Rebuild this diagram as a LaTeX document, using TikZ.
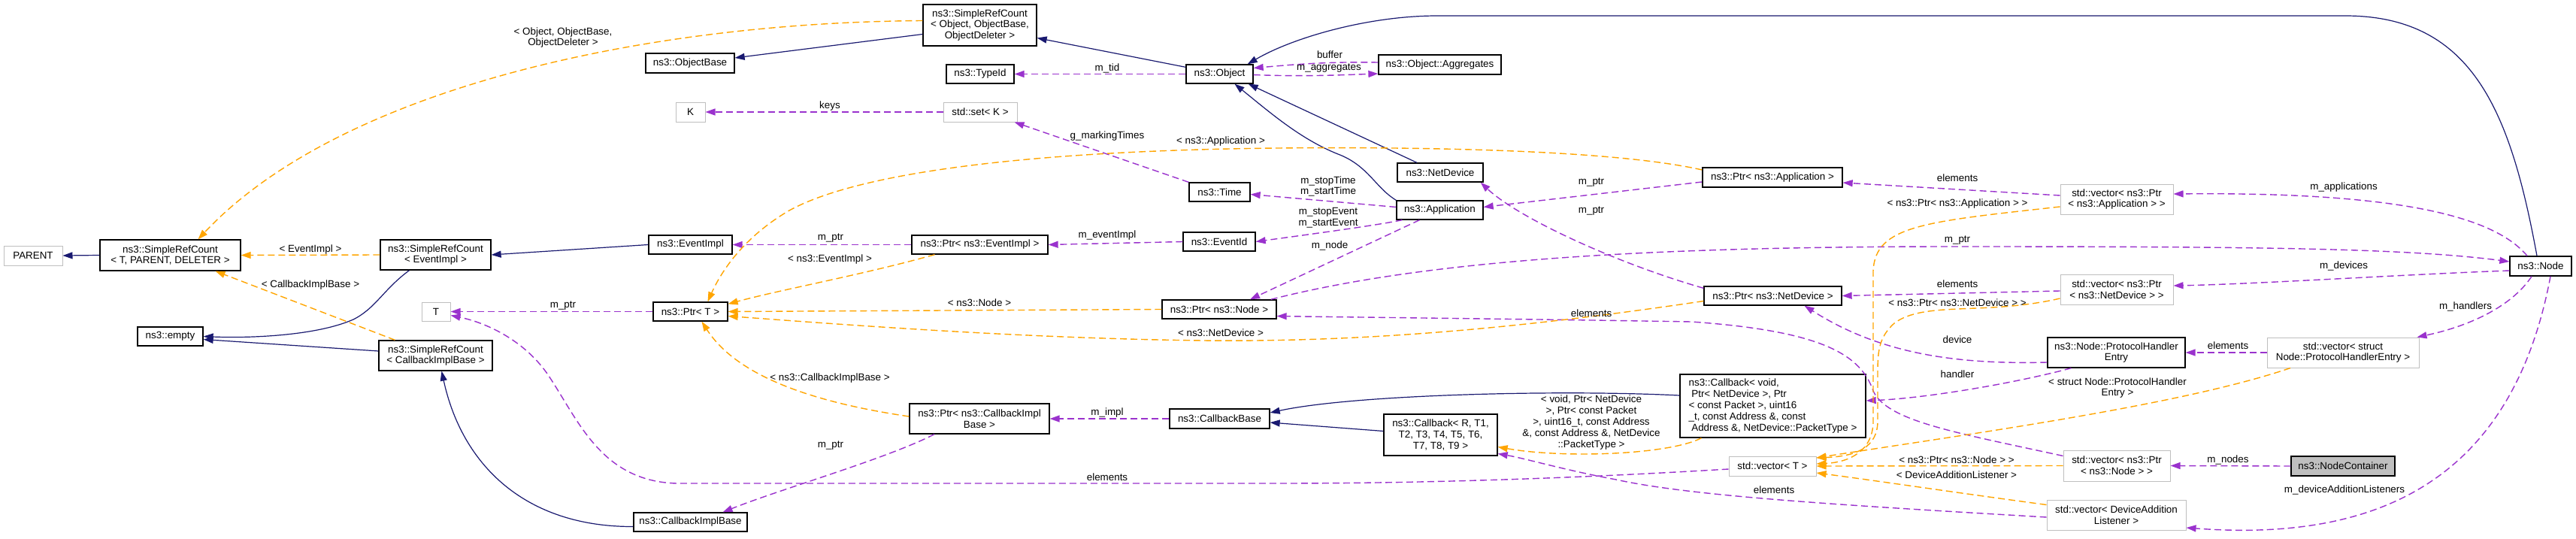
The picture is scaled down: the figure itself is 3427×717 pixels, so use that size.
\documentclass[tikz,border=0pt]{standalone}
\usepackage{fontspec}
\setmainfont{Liberation Sans}
\usetikzlibrary{arrows.meta}
\definecolor{inhblue}{RGB}{25,25,112}
\definecolor{usepurple}{RGB}{154,50,205}
\definecolor{tplorange}{RGB}{255,165,0}
\definecolor{extgray}{RGB}{191,191,191}
\newcommand\dfont{\fontsize{13.4}{14.8}\selectfont}
\tikzset{
	cls/.style={draw=black, line width=1.3pt, fill=white, align=center, inner sep=0pt, font=\dfont},
	ext/.style={cls, draw=extgray, line width=1pt},
	sel/.style={cls, fill=extgray},
	sz/.style 2 args={minimum width=#1pt, minimum height=#2pt},
	lbl/.style={font=\dfont, inner sep=0pt, align=center},
	inh/.style={draw=inhblue, line width=1.2pt, -{Triangle[length=13pt,width=9pt]}},
	use/.style={draw=usepurple, line width=1.4pt, dash pattern=on 9pt off 5pt, -{Triangle[length=13pt,width=9pt]}},
	tpl/.style={draw=tplorange, line width=1.4pt, dash pattern=on 9pt off 5pt, -{Triangle[length=13pt,width=9pt]}},
}

\begin{document}
\begin{tikzpicture}[x=1pt, y=-1pt]
			%%%%% START %%%%%
			\fill[white] (0,0) rectangle (3427,717);
			\useasboundingbox (0,0) rectangle (3427,717);
			
			%%%%% CLASSES %%%%%
			\node[ext, sz={78}{26}] (parent) at (44,340) {PARENT};
			\node[cls, sz={187}{41}] (srcT) at (226.5,339.5) {ns3::SimpleRefCount\\< T, PARENT, DELETER >};
			\node[cls, sz={147}{40}] (srcEv) at (579.5,339) {ns3::SimpleRefCount\\< EventImpl >};
			\node[cls, sz={87}{25}] (empty) at (226.5,447.5) {ns3::empty};
			\node[cls, sz={151}{40}] (srcCB) at (579.5,473) {ns3::SimpleRefCount\\< CallbackImplBase >};
			\node[ext, sz={38}{25}] (tT) at (580,414.5) {T};
			
			\node[cls, sz={118}{26}] (objBase) at (918,84) {ns3::ObjectBase};
			\node[ext, sz={39}{26}] (keyK) at (918.5,149) {K};
			\node[cls, sz={111}{25}] (eventImpl) at (918.5,325.5) {ns3::EventImpl};
			\node[cls, sz={99}{25}] (ptrT) at (918.5,414.5) {ns3::Ptr< T >};
			\node[cls, sz={151}{25}] (cbImpl) at (918.5,694.5) {ns3::CallbackImplBase};
			
			\node[cls, sz={151}{55}] (srcObj) at (1303.5,33.5) {ns3::SimpleRefCount\\< Object, ObjectBase,\\ObjectDeleter >};
			\node[cls, sz={90}{25}] (typeId) at (1304,98.5) {ns3::TypeId};
			\node[ext, sz={98}{26}] (setK) at (1304,149) {std::set< K >};
			\node[cls, sz={181}{25}] (ptrEv) at (1303.5,325.5) {ns3::Ptr< ns3::EventImpl >};
			\node[cls, sz={186}{40}] (ptrCB) at (1303,557) {ns3::Ptr< ns3::CallbackImpl\\Base >};
			
			\node[cls, sz={89}{25}] (object) at (1622.5,98.5) {ns3::Object};
			\node[cls, sz={81}{25}] (time) at (1622.5,255.5) {ns3::Time};
			\node[cls, sz={96}{25}] (eventId) at (1622,321.5) {ns3::EventId};
			\node[cls, sz={152}{25}] (ptrNode) at (1622,411.5) {ns3::Ptr< ns3::Node >};
			\node[cls, sz={133}{26}] (cbBase) at (1622.5,557) {ns3::CallbackBase};
			
			\node[cls, sz={163}{26}] (aggr) at (1915.5,86) {ns3::Object::Aggregates};
			\node[cls, sz={114}{25}] (netDev) at (1916,229.5) {ns3::NetDevice};
			\node[cls, sz={115}{25}] (app) at (1915.5,279.5) {ns3::Application};
			\node[cls, sz={151}{55}] (cbR) at (1916.5,578.5) {ns3::Callback< R, T1,\\T2, T3, T4, T5, T6,\\T7, T8, T9 >};
			
			\node[cls, sz={186}{26}] (ptrApp) at (2358,236) {ns3::Ptr< ns3::Application >};
			\node[cls, sz={183}{25}] (ptrND) at (2358.5,393.5) {ns3::Ptr< ns3::NetDevice >};
			\node[cls, sz={247}{84}, align=left] (cbVoid) at (2358.5,540) {ns3::Callback< void,\\\ Ptr< NetDevice >, Ptr\\< const Packet >, uint16\\\_t, const Address \&, const\\\ Address \&, NetDevice::PacketType >};
			\node[ext, sz={116}{26}] (vecT) at (2358,620) {std::vector< T >};
			
			\node[ext, sz={150}{40}] (vecApp) at (2816,265) {std::vector< ns3::Ptr\\< ns3::Application > >};
			\node[ext, sz={150}{40}] (vecND) at (2816,385) {std::vector< ns3::Ptr\\< ns3::NetDevice > >};
			\node[cls, sz={183}{40}] (phe) at (2815.5,469) {ns3::Node::ProtocolHandler\\Entry};
			\node[ext, sz={142}{41}] (vecNode) at (2816,619.5) {std::vector< ns3::Ptr\\< ns3::Node > >};
			\node[ext, sz={185}{40}] (vecDAL) at (2815.5,685) {std::vector< DeviceAddition\\Listener >};
			
			\node[ext, sz={202}{40}] (vecPHE) at (3117,469) {std::vector< struct\\Node::ProtocolHandlerEntry >};
			\node[sel, sz={138}{26}] (nodeCont) at (3117,620) {ns3::NodeContainer};
			\node[cls, sz={82}{26}] (node) at (3380,354) {ns3::Node};
			
			%%%%% INHERITANCE %%%%%
			\draw[inh] (srcT.west) -- (parent.east);
			\draw[inh] ([xshift=-35pt]srcEv.south) .. controls (510,385) and (500,410) .. (470,425) .. controls (420,447) and (330,450) .. (empty.east);
			\draw[inh] (eventImpl.west) -- (srcEv.east);
			\draw[inh] ([yshift=6pt]srcCB.west) -- ([yshift=-4pt]empty.east);
			\draw[inh] ([yshift=-6pt]cbImpl.west) .. controls (700,701) and (615,620) .. ([xshift=8pt]srcCB.south);
			\draw[inh] ([yshift=-12pt]srcObj.west) -- ([yshift=7pt]objBase.east);
			\draw[inh] ([yshift=-4pt]object.north west) -- ([yshift=-17pt]srcObj.east);
			\draw[inh] ([xshift=-5pt]node.north) .. controls (3340,150) and (3290,21) .. (3120,21) -- (1912,21) .. controls (1820,21) and (1720,50) .. ([xshift=-8pt]object.north east);
			\draw[inh] ([xshift=-31pt]netDev.north) -- ([xshift=-7pt]object.south east);
			\draw[inh] (app.north west) .. controls (1830,250) and (1820,220) .. (1780,205) .. controls (1730,185) and (1690,150) .. ([xshift=20pt]object.south);
			\draw[inh] ([yshift=14pt]cbVoid.west) .. controls (2073,518) and (1800,525) .. ([yshift=8pt]cbBase.east);
			\draw[inh] ([yshift=5pt]cbR.west) -- ([yshift=-5pt]cbBase.east);
			
			%%%%% MEMBERS %%%%%
			\draw[use] (object.west) -- (typeId.east);
			\draw[use] ([yshift=3pt]aggr.west) .. controls (1760,82) and (1720,86) .. ([yshift=8pt]object.east);
			\draw[use] ([yshift=-1pt]object.east) .. controls (1730,102) and (1780,100) .. ([yshift=-12pt]aggr.west);
			\draw[use] (setK.west) -- (keyK.east);
			\draw[use] (time.north west) -- ([xshift=-4pt]setK.south east);
			\draw[use] ([yshift=4pt]app.west) -- ([yshift=-3pt]time.east);
			\draw[use] ([xshift=-50pt]app.south) .. controls (1830,300) and (1740,312) .. (eventId.east);
			\draw[use] ([xshift=-27pt]app.south) -- ([xshift=41pt]ptrNode.north);
			\draw[use] (eventId.west) -- (ptrEv.east);
			\draw[use] (ptrEv.west) -- (eventImpl.east);
			\draw[use] ([yshift=-6pt]ptrApp.west) -- ([yshift=4pt]app.east);
			\draw[use] ([yshift=-3pt]ptrND.north west) .. controls (2150,350) and (2020,290) .. ([xshift=-4pt]netDev.south east);
			\draw[use] ([xshift=-8pt]ptrNode.north east) .. controls (1900,345) and (2200,328) .. (2600,328) .. controls (3000,328) and (3200,330) .. ([yshift=6pt]node.west);
			\draw[use] ([xshift=-18pt]node.north) .. controls (3320,290) and (3200,255) .. ([yshift=7pt]vecApp.east);
			\draw[use] ([yshift=5pt]vecApp.west) -- ([yshift=-7pt]ptrApp.east);
			\draw[use] ([yshift=-6pt]node.west) .. controls (3200,365) and (3000,378) .. ([yshift=5pt]vecND.east);
			\draw[use] ([yshift=-2pt]vecND.west) -- (ptrND.east);
			\draw[use] ([xshift=-12pt]node.south) .. controls (3340,410) and (3280,435) .. ([xshift=-3pt]vecPHE.north east);
			\draw[use] (vecPHE.west) -- (phe.east);
			\draw[use] ([yshift=-13pt]phe.west) .. controls (2600,485) and (2500,470) .. ([xshift=42pt]ptrND.south);
			\draw[use] ([xshift=-60pt]phe.south) .. controls (2680,510) and (2560,530) .. ([yshift=7pt]cbVoid.east);
			\draw[use] ([xshift=13pt]node.south) .. controls (3340,650) and (3150,720) .. ([yshift=-17pt]vecDAL.east);
			\draw[use] (nodeCont.west) -- (vecNode.east);
			\draw[use] ([yshift=-8pt]vecNode.north west) .. controls (2600,575) and (2510,560) .. (2492,520) .. controls (2475,470) and (2420,440) .. (2250,428) .. controls (2000,424) and (1800,422) .. ([yshift=-9pt]ptrNode.east);
			\draw[use] ([yshift=-3pt]vecDAL.west) .. controls (2450,672) and (2250,660) .. (2150,638) .. controls (2080,625) and (2030,610) .. ([yshift=-25pt]cbR.east);
			\draw[use] ([yshift=-4pt]vecT.west) .. controls (2100,636) and (1900,643) .. (1700,643) -- (900,643) .. controls (800,640) and (770,560) .. (730,500) .. controls (700,455) and (650,430) .. ([yshift=-5pt]tT.east);
			\draw[use] (ptrT.west) -- (tT.east);
			\draw[use] ([xshift=-60pt]ptrCB.south) .. controls (1180,610) and (1040,650) .. ([xshift=43pt]cbImpl.north);
			\draw[use] (cbBase.west) -- (ptrCB.east);
			
			%%%%% TEMPLATES %%%%%
			\draw[tpl] ([yshift=6pt]srcObj.west) .. controls (850,30) and (450,120) .. ([xshift=37pt]srcT.north);
			\draw[tpl] (srcEv.west) -- (srcT.east);
			\draw[tpl] ([xshift=-54pt]srcCB.north) -- ([xshift=60pt]srcT.south);
			\draw[tpl] ([xshift=-60pt]ptrEv.south) .. controls (1150,365) and (1040,385) .. ([yshift=-3pt]ptrT.north east);
			\draw[tpl] ([yshift=10pt]ptrApp.west) .. controls (2150,200) and (1900,195) .. (1700,197) .. controls (1400,200) and (1150,225) .. (1050,280) .. controls (990,315) and (960,360) .. ([xshift=23pt]ptrT.north);
			\draw[tpl] (ptrNode.west) -- (ptrT.east);
			\draw[tpl] ([yshift=-7pt]ptrND.west) .. controls (2000,440) and (1800,455) .. (1600,453) .. controls (1350,450) and (1100,430) .. ([yshift=-6pt]ptrT.east);
			\draw[tpl] ([yshift=3pt]ptrCB.west) .. controls (1080,535) and (980,500) .. ([xshift=15pt]ptrT.south);
			\draw[tpl] ([xshift=-95pt]cbVoid.south) .. controls (2220,605) and (2080,610) .. ([yshift=-16pt]cbR.east);
			\draw[tpl] ([yshift=-10pt]vecApp.west) .. controls (2560,295) and (2495,300) .. (2492,360) -- (2492,560) .. controls (2492,600) and (2460,615) .. ([yshift=3pt]vecT.east);
			\draw[tpl] ([yshift=-12pt]vecND.west) .. controls (2640,420) and (2560,400) .. (2520,430) .. controls (2498,450) and (2498,470) .. (2498,500) -- (2498,560) .. controls (2498,595) and (2470,607) .. ([yshift=11pt]vecT.east);
			\draw[tpl] ([xshift=-70pt]vecPHE.south) .. controls (2900,540) and (2600,580) .. ([yshift=11pt]vecT.east);
			\draw[tpl] (vecNode.west) -- (vecT.east);
			\draw[tpl] ([yshift=-7pt]vecDAL.north west) .. controls (2600,655) and (2500,640) .. ([yshift=-9pt]vecT.east);
			
			%%%%% LABELS %%%%%
			\node[lbl] (lObj) at (749,50) {< Object, ObjectBase,\\ObjectDeleter >};
			\node[lbl] (lEv) at (413,332) {< EventImpl >};
			\node[lbl] (lCB) at (413,379) {< CallbackImplBase >};
			\node[lbl] (lTptr) at (749,407) {m\_ptr};
			\node[lbl] (lKeys) at (1104,141) {keys};
			\node[lbl] (lTid) at (1473,91) {m\_tid};
			\node[lbl] (lMark) at (1473,181) {g\_markingTimes};
			\node[lbl] (lPtrEv) at (1105,317) {m\_ptr};
			\node[lbl] (lEvT) at (1104,345) {< ns3::EventImpl >};
			\node[lbl] (lEvId) at (1473,313) {m\_eventImpl};
			\node[lbl] (lAppT) at (1624,188) {< ns3::Application >};
			\node[lbl] (lNodeT) at (1303,403) {< ns3::Node >};
			\node[lbl] (lNdT) at (1624,443) {< ns3::NetDevice >};
			\node[lbl] (lCbT) at (1104,503) {< ns3::CallbackImplBase >};
			\node[lbl] (lImpl) at (1473,549) {m\_impl};
			\node[lbl] (lCbPtr) at (1105,593) {m\_ptr};
			\node[lbl] (lVecT) at (1473,635) {elements};
			\node[lbl] (lBuf) at (1769,73) {buffer};
			\node[lbl] (lAgg) at (1768,91) {m\_aggregates};
			\node[lbl] (lTime) at (1767,248) {m\_stopTime\\m\_startTime};
			\node[lbl] (lEvent) at (1767,290) {m\_stopEvent\\m\_startEvent};
			\node[lbl] (lNode) at (1769,327) {m\_node};
			\node[lbl] (lAppPtr) at (2117,243) {m\_ptr};
			\node[lbl] (lNdPtr) at (2117,281) {m\_ptr};
			\node[lbl] (lNodeEl) at (2117,417) {elements};
			\node[lbl] (lCbVoid) at (2117,562) {< void, Ptr< NetDevice\\>, Ptr< const Packet\\>, uint16\_t, const Address\\\&, const Address \&, NetDevice\\::PacketType >};
			\node[lbl] (lDalEl) at (2360,652) {elements};
			\node[lbl] (lAppEl) at (2604,237) {elements};
			\node[lbl] (lAppVT) at (2604,271) {< ns3::Ptr< ns3::Application > >};
			\node[lbl] (lNodePtr) at (2604,320) {m\_ptr};
			\node[lbl] (lNdEl) at (2604,378) {elements};
			\node[lbl] (lNdVT) at (2604,403) {< ns3::Ptr< ns3::NetDevice > >};
			\node[lbl] (lDevice) at (2604,452) {device};
			\node[lbl] (lHandler) at (2604,498) {handler};
			\node[lbl] (lNodeVT) at (2603,612) {< ns3::Ptr< ns3::Node > >};
			\node[lbl] (lDalVT) at (2603,632) {< DeviceAdditionListener >};
			\node[lbl] (lPheEl) at (2964,460) {elements};
			\node[lbl] (lPheVT) at (2817,516) {< struct Node::ProtocolHandler\\Entry >};
			\node[lbl] (lNodes) at (2964,612) {m\_nodes};
			\node[lbl] (lApps) at (3118,249) {m\_applications};
			\node[lbl] (lDevs) at (3118,354) {m\_devices};
			\node[lbl] (lHand) at (3280,408) {m\_handlers};
			\node[lbl] (lDal) at (3119,652) {m\_deviceAdditionListeners};
			
			%%%%% END %%%%%
\end{tikzpicture}
\end{document}
